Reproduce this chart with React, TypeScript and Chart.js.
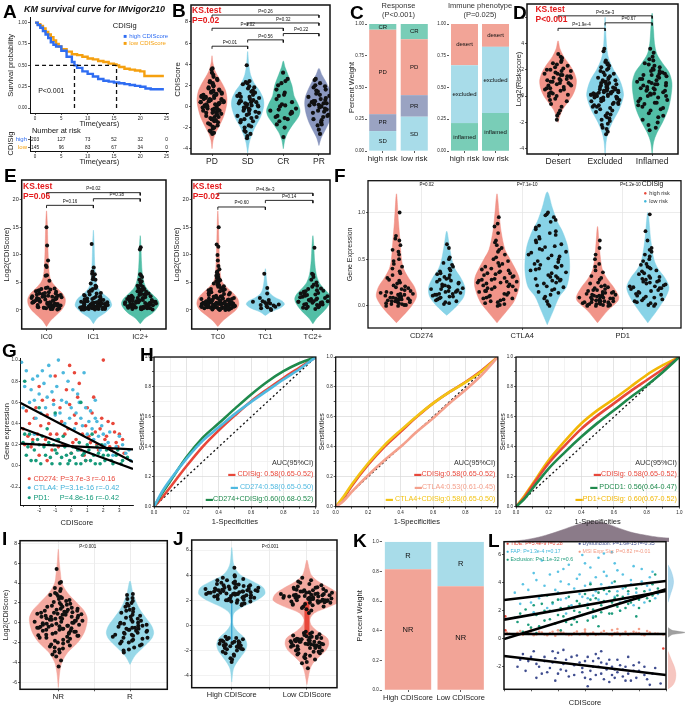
import { useEffect, useRef } from 'react';
import { Chart, registerables } from 'chart.js';

Chart.register(...registerables);

const FONT = "'Liberation Sans', Arial, Helvetica, sans-serif";
const RED = '#E41A1C';
const BLUE_KM = '#2F6DF2';
const ORANGE_KM = '#F5A00F';

const SALMON = 'rgba(239,133,121,0.88)';
const SKY = 'rgba(120,205,228,0.88)';
const TEAL = 'rgba(58,181,154,0.88)';
const SLATE = 'rgba(122,137,182,0.88)';
const SALMON_L = 'rgba(243,160,150,0.9)';
const SKY_L = 'rgba(140,212,230,0.9)';
const BAR_SALMON = '#F2A497';
const BAR_SKY = '#A8DCE9';
const BAR_TEAL = '#79CDB7';
const BAR_SLATE = '#9AA3C2';

// ---------- A: Kaplan-Meier ----------
const KM_HIGH_T = [0, 0.5, 1, 1.5, 2, 2.5, 3, 3.5, 4, 5, 6, 7, 7.5, 8, 9, 10, 11, 12, 13, 14, 15, 16, 17, 18, 19, 20, 21, 22, 24.5];
const KM_HIGH_S = [1, 0.97, 0.94, 0.9, 0.86, 0.82, 0.77, 0.74, 0.72, 0.67, 0.6, 0.54, 0.5, 0.47, 0.43, 0.4, 0.37, 0.34, 0.32, 0.31, 0.3, 0.29, 0.28, 0.27, 0.26, 0.25, 0.23, 0.22, 0.22];
const KM_LOW_T = [0, 0.5, 1, 1.5, 2, 2.5, 3, 3.5, 4, 4.5, 5, 6, 7, 8, 9, 10, 11, 12, 13, 14, 15, 15.5, 16, 17, 18, 19, 20, 20.8, 24.5];
const KM_LOW_S = [1, 0.98, 0.96, 0.93, 0.89, 0.86, 0.83, 0.79, 0.75, 0.72, 0.69, 0.66, 0.63, 0.62, 0.6, 0.58, 0.57, 0.55, 0.54, 0.52, 0.51, 0.5, 0.48, 0.46, 0.45, 0.44, 0.43, 0.375, 0.375];
const KM_MEDIANS = [7.5, 15.5];
const RISK_TIMES = [0, 5, 10, 15, 20, 25];
const RISK_HIGH = [203, 127, 73, 52, 32, 0];
const RISK_LOW = [145, 96, 83, 67, 34, 0];
const RISK_GROUPS = ['high', 'low'];

// shared jitter offsets
const JIT = [0.12, -0.64, 0.83, -0.27, 0.45, -0.91, 0.05, 0.68, -0.48, 0.31, -0.12, 0.94, -0.76, 0.22, -0.35, 0.57, -0.03, 0.79, -0.58, 0.38, -0.84, 0.16, 0.63, -0.19, -0.69, 0.49, 0.87, -0.41, 0.09, -0.97, 0.27, -0.53, 0.72, -0.08, 0.41, -0.3, 0.99, -0.62, 0.18, 0.55];

// ---------- B ----------
const B_CATS = ['PD', 'SD', 'CR', 'PR'];
const B_PD = [-2.6, -2.5, -2.4, -2.1, -1.9, -1.7, -1.5, -1.4, -1.2, -1.1, -1.0, -0.9, -0.8, -0.7, -0.6, -0.5, -0.4, -0.3, -0.3, -0.2, -0.1, 0.0, 0.1, 0.1, 0.2, 0.3, 0.3, 0.4, 0.5, 0.5, 0.6, 0.7, 0.8, 0.9, 1.0, 1.0, 1.1, 1.2, 1.3, 1.4, 1.5, 1.6, 1.8, 1.9, 2.1, 2.3, 2.5, 2.8, 3.2, 3.5, 3.6,
  -2.3, -2.0, -1.8, -1.6, -1.3, -1.0, -0.8, -0.6, -0.5, -0.4, -0.2, -0.1, 0.0, 0.0, 0.2, 0.3, 0.4, 0.4, 0.5, 0.6, 0.6, 0.7, 0.8, 0.8, 0.9, 1.0, 1.1, 1.2, 1.3, 1.4, 1.5, 1.7, 2.0, 2.2, 2.4, 2.6, 3.0, -1.2, 0.7, 0.2];
const B_SD = [-3.0, -2.8, -2.6, -2.3, -2.0, -1.8, -1.5, -1.3, -1.1, -1.0, -0.8, -0.7, -0.5, -0.4, -0.3, -0.2, -0.1, 0.0, 0.1, 0.2, 0.3, 0.4, 0.5, 0.6, 0.8, 0.9, 1.1, 1.3, 1.5, 1.7, 1.9, 2.1, 2.3, 2.4, 3.9,
  -2.4, -1.9, -1.4, -0.9, -0.6, -0.2, 0.0, 0.1, 0.3, 0.5, 0.7, 1.0, 1.2, 1.4, 1.8, 2.2, -0.4, 0.4, -1.2, 0.9];
const B_CR = [-2.9, -2.0, -1.7, -1.4, -1.2, -1.0, -0.9, -0.7, -0.5, -0.4, -0.2, 0.0, 0.2, 0.4, 0.7, 1.0, 1.3, 1.6, 2.0, 2.4, 2.6, 3.2, -1.1, -0.6, -0.3, 0.1, 1.1, 2.2];
const B_PR = [-2.6, -2.2, -1.8, -1.5, -1.2, -1.0, -0.8, -0.6, -0.5, -0.3, -0.2, -0.1, 0.0, 0.1, 0.2, 0.3, 0.4, 0.5, 0.6, 0.8, 0.9, 1.0, 1.2, 1.4, 1.6, 1.8, 2.0, 2.2, 2.5, 2.6,
  -1.7, -0.9, -0.4, 0.0, 0.3, 0.5, 0.7, 1.1, 1.5, 1.9, -1.3, 0.15];
const B_PD_V = [[-4, 0], [-3.2, 0.03], [-2.5, 0.1], [-2, 0.18], [-1, 0.32], [0, 0.4], [0.7, 0.42], [1.5, 0.38], [2.2, 0.28], [3, 0.14], [3.5, 0.07], [4.2, 0.02], [4.8, 0]];
const B_SD_V = [[-4.4, 0], [-3.5, 0.04], [-2.8, 0.1], [-2, 0.2], [-1, 0.36], [0, 0.45], [0.7, 0.44], [1.5, 0.33], [2.2, 0.18], [3, 0.08], [4, 0.03], [5.2, 0]];
const B_CR_V = [[-4, 0], [-3.2, 0.04], [-2.5, 0.12], [-1.8, 0.25], [-1, 0.42], [-0.4, 0.47], [0.3, 0.4], [1, 0.3], [2, 0.24], [3, 0.13], [3.7, 0.05], [4.3, 0]];
const B_PR_V = [[-3.7, 0], [-3, 0.06], [-2.4, 0.15], [-1.6, 0.27], [-0.7, 0.36], [0.2, 0.4], [0.9, 0.38], [1.6, 0.3], [2.3, 0.2], [3, 0.08], [3.6, 0]];
const B_BR: [number, number, number, string][] = [[1, 2, 5.7, 'P=0.01'], [2, 3, 6.3, 'P=0.56'], [1, 3, 7.4, 'P=0.02'], [3, 4, 6.9, 'P=0.22'], [2, 4, 7.9, 'P=0.32'], [1, 4, 8.65, 'P=0.26']];

// ---------- C ----------
const C_CATS = ['high risk', 'low risk'];
const RESP_SD = [0.157, 0.27];
const RESP_PR = [0.133, 0.17];
const RESP_PD = [0.665, 0.44];
const RESP_CR = [0.045, 0.12];
const IMM_INFL = [0.22, 0.3];
const IMM_EXCL = [0.455, 0.52];
const IMM_DESERT = [0.325, 0.18];

// ---------- D ----------
const D_CATS = ['Desert', 'Excluded', 'Inflamed'];
const D_DESERT = [-1.8, -1.5, -1.1, -0.8, -0.6, -0.4, -0.2, 0.0, 0.1, 0.2, 0.3, 0.4, 0.5, 0.6, 0.7, 0.8, 0.9, 1.0, 1.0, 1.1, 1.2, 1.3, 1.4, 1.5, 1.6, 1.7, 1.8, 1.9, 2.0, 2.1, 2.3, 2.5, 2.7, 2.9, 3.0, 3.2,
  -1.3, -0.3, 0.2, 0.5, 0.8, 1.1, 1.3, 1.5, 1.7, 1.9, 2.2, 2.4, 0.9, 1.2, 0.6, 1.6, 2.0, 0.0, 2.6, 1.4];
const D_EXCL = [-2.9, -2.7, -2.4, -2.1, -1.9, -1.7, -1.5, -1.3, -1.2, -1.0, -0.9, -0.8, -0.7, -0.6, -0.5, -0.4, -0.3, -0.2, -0.1, -0.1, 0.0, 0.0, 0.1, 0.1, 0.2, 0.2, 0.3, 0.3, 0.4, 0.5, 0.5, 0.6, 0.7, 0.8, 0.9, 1.0, 1.1, 1.2, 1.3, 1.4, 1.5, 1.7, 1.9, 2.1, 2.3, 2.5, 2.6, 2.7, 3.4, 3.6,
  -2.5, -2.2, -1.8, -1.4, -1.1, -0.8, -0.6, -0.4, -0.3, -0.2, -0.1, 0.0, 0.0, 0.1, 0.2, 0.3, 0.4, 0.4, 0.5, 0.6, 0.7, 0.8, 0.9, 1.0, 1.2, 1.4, 1.6, 1.8, 2.0, 2.2, 2.4, -0.5, 0.15, 0.35, -0.05, 0.65, 1.1, -1.6, -0.7, 0.25];
const D_INFL = [-2.6, -2.4, -2.0, -1.8, -1.5, -1.3, -1.1, -0.9, -0.8, -0.6, -0.5, -0.4, -0.2, -0.1, 0.0, 0.1, 0.2, 0.3, 0.4, 0.5, 0.6, 0.7, 0.8, 0.9, 1.0, 1.1, 1.2, 1.3, 1.4, 1.5, 1.6, 1.7, 1.8, 1.9, 2.1, 2.3, 2.5, 2.8, 3.3, 3.6,
  -2.2, -1.6, -1.0, -0.7, -0.3, 0.0, 0.2, 0.4, 0.6, 0.8, 0.9, 1.1, 1.3, 1.5, 1.7, 1.9, 2.0, 2.2, 2.4, 2.7, 3.0, 0.5, 1.0, -0.5, 1.6];
const D_DESERT_V = [[-2, 0], [-1.5, 0.04], [-1, 0.1], [-0.5, 0.2], [0, 0.3], [0.6, 0.37], [1.2, 0.39], [1.8, 0.34], [2.4, 0.24], [3, 0.12], [3.6, 0.04], [4.2, 0]];
const D_EXCL_V = [[-4.5, 0], [-3.5, 0.02], [-2.8, 0.06], [-2, 0.15], [-1, 0.3], [0, 0.39], [0.6, 0.37], [1.3, 0.3], [2, 0.18], [2.8, 0.08], [3.5, 0.04], [4.5, 0.02], [6, 0]];
const D_INFL_V = [[-4.4, 0], [-3.5, 0.03], [-2.8, 0.1], [-2, 0.22], [-1, 0.34], [0, 0.4], [1, 0.42], [1.8, 0.36], [2.5, 0.22], [3.2, 0.1], [4, 0.05], [5, 0.03], [6.3, 0]];
const D_BR: [number, number, number, string][] = [[1, 2, 5.15, 'P=1.9e-4'], [2, 3, 5.57, 'P=0.67'], [1, 3, 6.1, 'P=9.5e-3']];

// ---------- E ----------
const E_IC_CATS = ['IC0', 'IC1', 'IC2+'];
const E_TC_CATS = ['TC0', 'TC1', 'TC2+'];
const E_IC0 = [0.1, 0.2, 0.3, 0.4, 0.5, 0.6, 0.7, 0.8, 0.9, 1.0, 1.1, 1.2, 1.3, 1.4, 1.5, 1.6, 1.7, 1.8, 1.9, 2.0, 2.1, 2.2, 2.3, 2.4, 2.5, 2.6, 2.8, 3.0, 3.2, 3.4, 3.5, 3.7, 3.9, 4.0, 4.1, 5.3, 6.2, 6.3, 7.8, 8.1, 9.0, 11.7, 15.0, 0.4, 1.0, 2.2,
  0.2, 0.3, 0.5, 0.6, 0.8, 0.9, 1.1, 1.2, 1.4, 1.5, 1.7, 1.8, 2.0, 2.1, 2.3, 2.5, 2.7, 2.9, 3.1, 3.3, 3.6, 3.8, 0.7, 1.3, 1.6, 2.4, 0.15, 1.9, 2.6, 3.0];
const E_IC1 = [0.1, 0.1, 0.2, 0.2, 0.3, 0.3, 0.4, 0.5, 0.5, 0.6, 0.7, 0.8, 0.9, 1.0, 1.0, 1.1, 1.2, 1.3, 1.4, 1.5, 1.6, 1.8, 2.0, 2.2, 2.4, 2.6, 2.8, 3.0, 3.3, 3.6, 4.0, 4.4, 4.8, 5.5, 5.6, 6.0, 6.5, 6.6, 7.0, 7.7, 12.0, 0.4, 0.8, 1.2, 2.0,
  0.1, 0.2, 0.2, 0.3, 0.3, 0.4, 0.4, 0.5, 0.6, 0.6, 0.7, 0.7, 0.8, 0.9, 1.0, 1.1, 1.1, 1.2, 1.3, 1.4, 1.5, 1.6, 1.7, 1.9, 2.1, 2.3, 2.5, 2.7, 3.1, 3.5, 3.8, 4.2, 0.15, 0.25, 0.35, 0.45, 0.55, 0.65, 0.95, 1.25];
const E_IC2 = [0.1, 0.2, 0.3, 0.3, 0.4, 0.5, 0.6, 0.7, 0.8, 0.9, 1.0, 1.1, 1.2, 1.3, 1.4, 1.5, 1.6, 1.7, 1.8, 1.9, 2.0, 2.2, 2.4, 2.6, 2.8, 3.0, 3.2, 3.5, 3.8, 4.0, 4.5, 5.0, 5.5, 6.0, 6.3, 6.5, 11.0, 11.4, 0.6, 1.0, 1.5, 2.3, 2.7, 3.3, 4.2,
  0.2, 0.3, 0.4, 0.5, 0.6, 0.7, 0.8, 0.9, 1.0, 1.1, 1.2, 1.3, 1.4, 1.5, 1.6, 1.7, 1.8, 2.0, 2.1, 2.3, 2.5, 2.7, 2.9, 3.1, 3.4, 3.7, 0.15, 0.45, 0.85, 1.25, 1.75, 2.2, 3.6, 4.4, 5.2];
const E_TC0 = [0.0, 0.1, 0.1, 0.2, 0.2, 0.3, 0.3, 0.4, 0.4, 0.5, 0.5, 0.6, 0.7, 0.8, 0.8, 0.9, 1.0, 1.0, 1.1, 1.2, 1.3, 1.4, 1.5, 1.6, 1.7, 1.8, 1.9, 2.0, 2.2, 2.4, 2.6, 2.8, 3.0, 3.2, 3.4, 3.6, 3.8, 4.0, 4.3, 4.6, 5.0, 5.4, 5.8, 6.0, 6.4, 7.0, 7.4, 8.0, 9.0, 10.0, 11.5, 11.9, 15.0, 0.6, 1.3,
  0.0, 0.1, 0.2, 0.2, 0.3, 0.3, 0.4, 0.4, 0.5, 0.5, 0.6, 0.6, 0.7, 0.7, 0.8, 0.8, 0.9, 0.9, 1.0, 1.0, 1.1, 1.1, 1.2, 1.2, 1.3, 1.4, 1.5, 1.6, 1.7, 1.8, 1.9, 2.0, 2.1, 2.2, 2.3, 2.5, 2.7, 2.9, 3.1, 3.3, 3.5, 3.7, 3.9, 4.2, 4.5, 4.8, 5.2, 5.6, 6.2, 6.8, 0.15, 0.35, 0.55, 0.75, 0.95, 1.15, 1.35, 1.55, 2.05, 2.45];
const E_TC1 = [0.0, 0.3, 0.5, 0.7, 0.9, 1.0, 1.2, 1.4, 1.6, 1.8, 2.2, 3.0, 4.0, 6.6, 0.2, 0.6, 0.8, 1.1, 1.3, 1.5];
const E_TC2 = [0.2, 0.4, 0.6, 0.8, 1.0, 1.1, 1.2, 1.4, 1.5, 1.6, 1.8, 2.0, 2.2, 2.4, 2.6, 2.8, 3.0, 3.3, 3.6, 3.9, 4.2, 4.6, 5.0, 5.5, 6.0, 6.4, 6.6, 11.3, 0.9, 1.3, 1.7, 2.1, 2.9, 0.5, 3.5,
  0.3, 0.7, 1.0, 1.3, 1.6, 1.9, 2.3, 2.7, 3.1, 3.4, 3.8, 4.4, 1.1, 1.5, 2.5];
const E_IC0_V = [[-3, 0], [-2, 0.08], [-1, 0.2], [0, 0.32], [1, 0.39], [2, 0.4], [3, 0.34], [4, 0.22], [5, 0.12], [6, 0.07], [8, 0.045], [10, 0.035], [13, 0.025], [16, 0.015], [18, 0]];
const E_IC1_V = [[-2.5, 0], [-1.5, 0.08], [-0.5, 0.25], [0.5, 0.37], [1, 0.39], [2, 0.34], [3, 0.2], [4, 0.1], [5, 0.06], [6.5, 0.04], [9, 0.025], [12, 0.015], [14.5, 0]];
const E_IC2_V = [[-2.5, 0], [-1.5, 0.1], [-0.5, 0.27], [0.5, 0.37], [1.2, 0.4], [2, 0.36], [3, 0.24], [4, 0.13], [5, 0.08], [6.5, 0.045], [9, 0.025], [11.5, 0.015], [13.5, 0]];
const E_TC0_V = [[-3, 0], [-2, 0.1], [-1, 0.24], [0, 0.38], [1, 0.44], [2, 0.42], [3, 0.33], [4, 0.2], [5, 0.1], [6, 0.06], [8, 0.04], [10, 0.03], [13, 0.02], [16, 0.012], [18, 0]];
const E_TC1_V = [[-1, 0], [-0.3, 0.12], [0.3, 0.3], [1, 0.4], [1.6, 0.36], [2.2, 0.22], [3, 0.1], [4, 0.05], [5.5, 0.025], [7.5, 0]];
const E_TC2_V = [[-2.5, 0], [-1.5, 0.08], [-0.5, 0.2], [0.5, 0.3], [1.5, 0.37], [2.2, 0.38], [3, 0.33], [4, 0.22], [5, 0.13], [6.5, 0.07], [9, 0.035], [11.5, 0.02], [13.5, 0]];
const E_IC_BR: [number, number, number, string][] = [[1, 2, 19.0, 'P=0.16'], [2, 3, 20.2, 'P=0.38'], [1, 3, 21.3, 'P=0.02']];
const E_TC_BR: [number, number, number, string][] = [[1, 2, 18.7, 'P=0.60'], [2, 3, 19.9, 'P=0.14'], [1, 3, 21.2, 'P=4.8e-3']];

// ---------- F ----------
const F_GENES = ['CD274', 'CTLA4', 'PD1'];
const F_PVALS = ['P=0.02', 'P=7.1e-10', 'P=1.2e-10'];
const F_CD274_H = [0.0, 0.01, 0.02, 0.03, 0.04, 0.05, 0.06, 0.07, 0.08, 0.09, 0.1, 0.11, 0.12, 0.13, 0.15, 0.17, 0.19, 0.21, 0.24, 0.27, 0.3, 0.33, 0.37, 0.4, 0.45, 0.5, 0.55, 0.6, 0.65, 0.72, 0.75, 1.0, 0.03, 0.06, 0.1, 0.14,
  0.0, 0.02, 0.04, 0.05, 0.07, 0.08, 0.09, 0.11, 0.12, 0.14, 0.16, 0.18, 0.2, 0.22, 0.25, 0.28, 0.35, 0.42, 0.48, 0.58, 0.7, 0.01, 0.06, 0.13];
const F_CD274_L = [0.02, 0.04, 0.05, 0.07, 0.08, 0.1, 0.11, 0.12, 0.13, 0.14, 0.15, 0.16, 0.17, 0.18, 0.2, 0.21, 0.23, 0.25, 0.27, 0.29, 0.31, 0.33, 0.35, 0.38, 0.42, 0.46, 0.5, 0.52, 0.62, 0.66,
  0.03, 0.06, 0.09, 0.1, 0.12, 0.13, 0.15, 0.16, 0.18, 0.19, 0.21, 0.22, 0.24, 0.26, 0.28, 0.3, 0.34, 0.37, 0.4, 0.44];
const F_CTLA4_H = [0.0, 0.01, 0.03, 0.05, 0.07, 0.09, 0.1, 0.12, 0.14, 0.15, 0.17, 0.18, 0.2, 0.21, 0.22, 0.24, 0.25, 0.27, 0.28, 0.3, 0.32, 0.34, 0.36, 0.38, 0.4, 0.43, 0.46, 0.5, 0.55, 0.6, 0.65, 0.7, 0.78, 0.85, 0.95, 0.08, 0.16, 0.26, 0.35,
  0.02, 0.04, 0.06, 0.08, 0.11, 0.13, 0.16, 0.19, 0.21, 0.23, 0.25, 0.26, 0.28, 0.29, 0.31, 0.33, 0.35, 0.37, 0.39, 0.42, 0.45, 0.48, 0.52, 0.58, 0.62, 0.68, 0.88];
const F_CTLA4_L = [0.0, 0.05, 0.1, 0.12, 0.15, 0.18, 0.2, 0.22, 0.25, 0.28, 0.3, 0.33, 0.35, 0.38, 0.4, 0.42, 0.45, 0.48, 0.5, 0.53, 0.55, 0.58, 0.6, 0.63, 0.66, 0.7, 0.74, 0.78, 0.82, 0.86, 0.9, 0.95, 0.98, 1.0, 0.27, 0.44, 0.31,
  0.02, 0.08, 0.14, 0.17, 0.21, 0.24, 0.27, 0.29, 0.32, 0.36, 0.39, 0.41, 0.43, 0.47, 0.51, 0.54, 0.57, 0.61, 0.64, 0.68, 0.72, 0.76, 0.8, 0.84, 0.92, 0.97];
const F_PD1_H = [0.0, 0.01, 0.01, 0.02, 0.03, 0.03, 0.04, 0.05, 0.06, 0.07, 0.08, 0.09, 0.1, 0.11, 0.12, 0.13, 0.14, 0.15, 0.16, 0.18, 0.2, 0.22, 0.25, 0.28, 0.32, 0.38, 0.45, 0.5, 0.55, 0.7, 0.04, 0.09, 0.12, 0.17,
  0.0, 0.0, 0.01, 0.02, 0.02, 0.03, 0.04, 0.05, 0.05, 0.06, 0.07, 0.08, 0.09, 0.1, 0.11, 0.12, 0.14, 0.15, 0.17, 0.19, 0.21, 0.24, 0.3, 0.36, 0.42, 0.62];
const F_PD1_L = [0.0, 0.02, 0.05, 0.07, 0.08, 0.1, 0.12, 0.13, 0.15, 0.16, 0.18, 0.2, 0.21, 0.22, 0.24, 0.25, 0.27, 0.29, 0.3, 0.32, 0.35, 0.38, 0.4, 0.42, 0.45, 0.5, 0.55, 0.6, 0.62, 0.8, 0.98, 0.19, 0.26,
  0.01, 0.03, 0.04, 0.06, 0.09, 0.11, 0.14, 0.17, 0.19, 0.21, 0.23, 0.26, 0.28, 0.31, 0.34, 0.37, 0.41, 0.44, 0.48, 0.53, 0.58, 0.7];
const F_CD274_H_V = [[-0.18, 0], [-0.1, 0.07], [0, 0.15], [0.1, 0.2], [0.2, 0.18], [0.3, 0.12], [0.4, 0.07], [0.5, 0.05], [0.7, 0.035], [0.9, 0.02], [1.2, 0]];
const F_CD274_L_V = [[-0.1, 0], [0, 0.1], [0.1, 0.17], [0.2, 0.18], [0.3, 0.14], [0.4, 0.08], [0.5, 0.05], [0.65, 0.025], [0.8, 0]];
const F_CTLA4_H_V = [[-0.18, 0], [-0.05, 0.1], [0.05, 0.17], [0.2, 0.22], [0.3, 0.22], [0.4, 0.18], [0.5, 0.13], [0.6, 0.08], [0.8, 0.04], [1.0, 0.02], [1.2, 0]];
const F_CTLA4_L_V = [[-0.2, 0], [-0.05, 0.06], [0.1, 0.12], [0.2, 0.19], [0.35, 0.22], [0.5, 0.22], [0.65, 0.2], [0.8, 0.15], [0.9, 0.1], [1.05, 0.05], [1.22, 0]];
const F_PD1_H_V = [[-0.18, 0], [-0.05, 0.1], [0.05, 0.2], [0.1, 0.21], [0.2, 0.16], [0.3, 0.09], [0.4, 0.045], [0.6, 0.02], [0.85, 0]];
const F_PD1_L_V = [[-0.18, 0], [-0.05, 0.09], [0.1, 0.18], [0.2, 0.21], [0.3, 0.17], [0.4, 0.1], [0.5, 0.06], [0.7, 0.03], [1.0, 0]];

// ---------- G ----------
const G_CD274 = [[-3.0, 0.35], [-2.8, 0.52], [-2.7, 0.28], [-2.5, 0.18], [-2.3, 0.45], [-2.1, 0.3], [-2.0, 0.1], [-1.8, 0.62], [-1.6, 0.25], [-1.4, 0.4], [-1.2, 0.15], [-1.0, 0.85], [-0.9, 0.3], [-0.7, 0.55], [-0.5, 0.2], [-0.3, 0.72], [-0.2, 0.35], [0.0, 0.12], [0.2, 0.48], [0.3, 0.25], [0.5, 0.78], [0.7, 0.3], [0.8, 0.1], [1.0, 0.55], [1.2, 0.22], [1.4, 0.65], [1.5, 0.32], [1.7, 0.15], [1.9, 0.45], [2.0, 1.0], [2.2, 0.28], [2.4, 0.18], [2.6, 0.4], [2.8, 0.22], [3.0, 0.3], [3.3, 0.12], [-1.5, 0.05], [0.9, 0.05], [-0.1, 0.95],
  [-2.9, 0.2], [-2.6, 0.4], [-2.4, 0.25], [-2.2, 0.55], [-1.9, 0.38], [-1.7, 0.2], [-1.5, 0.48], [-1.3, 0.3], [-1.1, 0.62], [-0.8, 0.18], [-0.6, 0.42], [-0.4, 0.3], [-0.1, 0.58], [0.1, 0.22], [0.3, 0.4], [0.4, 0.65], [0.6, 0.15], [0.9, 0.38], [1.1, 0.28], [1.3, 0.5], [1.6, 0.2], [1.8, 0.35], [2.1, 0.25], [2.3, 0.42], [2.5, 0.15], [2.7, 0.32], [2.9, 0.18], [3.2, 0.25], [0.2, 0.88], [-2.0, 0.75]];
const G_CTLA4 = [[-3.1, 0.98], [-2.9, 0.75], [-2.6, 0.6], [-2.4, 0.82], [-2.2, 0.45], [-2.0, 0.68], [-1.8, 0.9], [-1.6, 0.55], [-1.4, 0.95], [-1.2, 0.7], [-1.0, 0.48], [-0.8, 1.0], [-0.6, 0.62], [-0.4, 0.4], [-0.2, 0.8], [0.0, 0.55], [0.2, 0.35], [0.4, 0.68], [0.6, 0.45], [0.8, 0.88], [1.0, 0.3], [1.2, 0.52], [1.4, 0.25], [1.6, 0.42], [1.8, 0.15], [2.0, 0.3], [2.3, 0.22], [2.6, 0.1], [3.0, 0.28], [3.4, 0.12], [3.7, 0.05], [-2.3, 0.3], [-0.9, 0.25], [0.5, 0.15], [1.5, 0.62],
  [-3.0, 0.55], [-2.8, 0.9], [-2.5, 0.72], [-2.3, 0.62], [-2.1, 0.85], [-1.9, 0.5], [-1.7, 0.78], [-1.5, 0.65], [-1.3, 0.85], [-1.1, 0.58], [-0.9, 0.75], [-0.7, 0.5], [-0.5, 0.88], [-0.3, 0.6], [-0.1, 0.45], [0.1, 0.72], [0.3, 0.5], [0.5, 0.6], [0.7, 0.38], [0.9, 0.55], [1.1, 0.42], [1.3, 0.35], [1.5, 0.45], [1.7, 0.28], [1.9, 0.38], [2.1, 0.2], [2.4, 0.32], [2.8, 0.18], [3.2, 0.2], [3.6, 0.15]];
const G_PD1 = [[-3.0, 0.22], [-2.8, 0.1], [-2.6, 0.3], [-2.5, 0.05], [-2.3, 0.15], [-2.1, 0.25], [-1.9, 0.02], [-1.7, 0.18], [-1.5, 0.35], [-1.3, 0.08], [-1.1, 0.2], [-0.9, 0.12], [-0.7, 0.02], [-0.5, 0.28], [-0.3, 0.1], [-0.1, 0.05], [0.1, 0.18], [0.3, 0.02], [0.5, 0.22], [0.7, 0.1], [0.9, 0.05], [1.1, 0.15], [1.3, 0.3], [1.5, 0.02], [1.7, 0.12], [1.9, 0.2], [2.1, 0.05], [2.3, 0.1], [2.6, 0.02], [2.9, 0.15], [3.2, 0.05], [-2.9, 0.8], [-1.0, 0.5], [0.6, 0.6], [-2.0, 0.55],
  [-2.9, 0.3], [-2.7, 0.18], [-2.4, 0.22], [-2.2, 0.05], [-2.0, 0.2], [-1.8, 0.28], [-1.6, 0.1], [-1.4, 0.22], [-1.2, 0.02], [-1.0, 0.15], [-0.8, 0.25], [-0.6, 0.08], [-0.4, 0.18], [-0.2, 0.02], [0.0, 0.12], [0.2, 0.08], [0.4, 0.15], [0.6, 0.02], [0.8, 0.12], [1.0, 0.2], [1.2, 0.05], [1.4, 0.1], [1.6, 0.18], [1.8, 0.02], [2.0, 0.1], [2.2, 0.15], [2.5, 0.05], [2.8, 0.1], [3.1, 0.02], [3.5, 0.08]];
const G_XR = [-3.15, 3.85];
const G_FIT_CTLA4 = [0.594, 0.037];
const G_FIT_PD1 = [0.36, -0.03];
const G_FIT_CD274 = [0.21, 0.156];

// ---------- H: ROC ----------
const ROC_FPR = [0, 0.05, 0.1, 0.2, 0.3, 0.4, 0.5, 0.6, 0.7, 0.8, 0.9, 1];
const H1_CDISIG = [0, 0.06, 0.13, 0.27, 0.4, 0.51, 0.61, 0.705, 0.785, 0.86, 0.93, 1];
const H1_CD274 = [0, 0.1, 0.18, 0.32, 0.44, 0.53, 0.62, 0.7, 0.775, 0.85, 0.92, 1];
const H1_COMB = [0, 0.09, 0.17, 0.33, 0.46, 0.557, 0.655, 0.75, 0.835, 0.905, 0.96, 1];
const H2_CDISIG = [0, 0.06, 0.14, 0.28, 0.4, 0.5, 0.6, 0.69, 0.765, 0.833, 0.91, 1];
const H2_CTLA4 = [0, 0.04, 0.1, 0.21, 0.31, 0.4, 0.5, 0.59, 0.69, 0.78, 0.88, 1];
const H2_COMB = [0, 0.07, 0.15, 0.29, 0.41, 0.51, 0.605, 0.69, 0.765, 0.83, 0.905, 1];
const H3_CDISIG = [0, 0.06, 0.14, 0.29, 0.41, 0.52, 0.61, 0.69, 0.77, 0.845, 0.92, 1];
const H3_PDCD1 = [0, 0.05, 0.12, 0.255, 0.365, 0.467, 0.56, 0.644, 0.73, 0.81, 0.9, 1];
const H3_COMB = [0, 0.07, 0.15, 0.31, 0.44, 0.556, 0.645, 0.72, 0.8, 0.88, 0.945, 1];

// ---------- I / J ----------
const I_CATS = ['NR', 'R'];
const I_NR = [-4.4, -3.8, -3.4, -3.0, -2.7, -2.5, -2.3, -2.1, -2.0, -1.8, -1.7, -1.5, -1.4, -1.3, -1.2, -1.0, -0.9, -0.8, -0.7, -0.6, -0.5, -0.4, -0.3, -0.2, -0.1, 0.0, 0.0, 0.1, 0.2, 0.3, 0.4, 0.5, 0.6, 0.7, 0.8, 0.9, 1.0, 1.1, 1.2, 1.3, 1.4, 1.5, 1.7, 1.8, 2.0, 2.1, 2.3, 2.5, 2.7, 2.9, 3.2, 3.5, 4.0, 4.1, 5.4, -1.1, 0.2, 0.6, -0.35, 1.6,
  -3.2, -2.9, -2.6, -2.4, -2.2, -1.9, -1.6, -1.5, -1.3, -1.1, -1.0, -0.9, -0.8, -0.7, -0.6, -0.5, -0.4, -0.3, -0.2, -0.1, 0.1, 0.2, 0.3, 0.4, 0.5, 0.6, 0.7, 0.8, 0.9, 1.0, 1.1, 1.2, 1.3, 1.4, 1.6, 1.8, 1.9, 2.2, 2.4, 2.6, 2.8, 3.0, 3.4, -0.05, 0.45, -0.55, 1.05, -1.25, 0.85, -0.25];
const I_R = [-3.0, -2.8, -2.5, -2.2, -2.0, -1.8, -1.6, -1.5, -1.3, -1.2, -1.0, -0.9, -0.8, -0.7, -0.6, -0.5, -0.4, -0.3, -0.2, -0.1, 0.0, 0.2, 0.4, 0.6, 0.8, 1.0, 1.2, 1.4, 1.6, 1.9, 2.2, 2.5, 2.8, 2.9, -1.1,
  -2.7, -2.3, -2.1, -1.9, -1.7, -1.4, -1.2, -1.0, -0.8, -0.7, -0.5, -0.3, -0.1, 0.1, 0.3, 0.5, 0.7, 1.1, 1.3, 1.7, 2.0, 2.4, -0.6, -1.5, 0.0];
const I_NR_V = [[-6.5, 0], [-5, 0.02], [-4, 0.05], [-3, 0.13], [-2, 0.27], [-1, 0.36], [0, 0.4], [0.6, 0.4], [1.3, 0.35], [2, 0.26], [3, 0.13], [4, 0.05], [5, 0.03], [6, 0.015], [7.4, 0]];
const I_R_V = [[-4.2, 0], [-3.3, 0.07], [-2.5, 0.18], [-1.6, 0.3], [-1, 0.33], [-0.3, 0.3], [0.5, 0.22], [1.3, 0.14], [2, 0.09], [3, 0.04], [4.2, 0]];
const J_CATS = ['High CDIScore', 'Low CDIScore'];
const J_HIGH = [1.6, 1.8, 1.9, 2.0, 2.0, 2.1, 2.2, 2.2, 2.3, 2.3, 2.4, 2.4, 2.5, 2.5, 2.6, 2.6, 2.7, 2.7, 2.8, 2.8, 2.9, 2.9, 3.0, 3.0, 3.1, 3.2, 3.3, 3.4, 3.5, 3.6, 3.8, 4.0, 4.6, 2.15, 2.45, 2.65, 2.85, 3.05, 2.55, 2.75, 1.75, 3.25,
  -2.9, -2.6, -2.4, -2.2, -2.0, -1.9, -1.8, -1.7, -1.6, -1.5, -1.4, -1.3, -1.2, -1.1, -1.0, -0.9, -1.55, -1.25, -1.75, -1.45,
  1.9, 2.0, 2.1, 2.2, 2.3, 2.4, 2.5, 2.5, 2.6, 2.7, 2.8, 2.9, 3.0, 3.1, 3.2, 3.3, 3.4, 3.6, 3.7, 3.9, 2.35, 2.55, 2.65, 2.95, 2.25, 2.75, 2.85, 3.15, 1.7, 2.05,
  -2.7, -2.3, -2.1, -1.9, -1.7, -1.6, -1.5, -1.4, -1.35, -1.2, -1.1, -1.0, -1.65, -1.85, -1.3];
const J_LOW = [1.0, 1.3, 1.5, 1.6, 1.7, 1.8, 1.8, 1.9, 1.9, 2.0, 2.0, 2.1, 2.1, 2.2, 2.2, 2.3, 2.3, 2.4, 2.4, 2.5, 2.5, 2.6, 2.7, 2.8, 2.9, 3.0, 3.1, 3.3, 3.5, 3.8, 1.95, 2.15, 2.35, 2.05, 1.85, 2.25, 2.45, 2.65, 1.4, 2.75,
  -3.4, -2.9, -2.6, -2.4, -2.2, -2.1, -2.0, -1.9, -1.8, -1.7, -1.6, -1.5, -1.5, -1.4, -1.3, -1.3, -1.2, -1.1, -1.0, -0.9, -0.8, -0.7, -0.6, -0.5, -1.45, -1.15, -1.65, -0.95, -1.25, -2.3,
  1.2, 1.5, 1.7, 1.8, 1.9, 2.0, 2.1, 2.2, 2.3, 2.4, 2.5, 2.6, 2.7, 2.8, 2.9, 3.0, 3.2, 3.4, 3.6, 1.95, 2.05, 2.15, 2.25, 2.35, 2.45, 2.55, 1.65, 2.85, 3.05, 2.0,
  -3.0, -2.7, -2.5, -2.3, -2.1, -2.0, -1.9, -1.8, -1.7, -1.6, -1.55, -1.5, -1.45, -1.4, -1.35, -1.3, -1.2, -1.15, -1.1, -1.0, -0.9, -0.85, -0.75, -0.65, -1.25, -1.6, -2.2, -1.05, -0.55, -1.75];
const J_HIGH_V = [[-4.5, 0], [-3.5, 0.02], [-3, 0.06], [-2.5, 0.12], [-2, 0.18], [-1.5, 0.2], [-1, 0.17], [-0.5, 0.08], [0, 0.02], [0.5, 0.012], [1, 0.03], [1.5, 0.15], [2, 0.33], [2.5, 0.44], [3, 0.42], [3.5, 0.28], [4, 0.12], [4.5, 0.05], [5, 0.02], [6.2, 0]];
const J_LOW_V = [[-4.7, 0], [-3.5, 0.04], [-3, 0.08], [-2.5, 0.16], [-2, 0.25], [-1.5, 0.29], [-1, 0.27], [-0.5, 0.15], [0, 0.06], [0.5, 0.04], [1, 0.1], [1.5, 0.3], [2, 0.45], [2.5, 0.42], [3, 0.3], [3.5, 0.15], [4, 0.06], [4.5, 0.03], [5.2, 0]];
const J_BOX_HIGH = [-1.6, 2.6];
const J_BOX_LOW = [-0.8, 1.9];

// ---------- K ----------
const K_NR = [0.814, 0.7];
const K_R = [0.186, 0.3];

// ---------- L ----------
const L_FAP = [[-2.3, 3.9], [-2.0, 2.6], [-1.8, 4.2], [-1.6, 3.1], [-1.4, 2.2], [-1.3, 4.6], [-1.1, 3.5], [-0.9, 2.8], [-0.8, 5.0], [-0.6, 3.9], [-0.5, 2.4], [-0.3, 4.3], [-0.2, 3.2], [0.0, 5.4], [0.1, 2.9], [0.2, 4.0], [0.4, 3.4], [0.5, 5.8], [0.6, 2.6], [0.8, 4.5], [0.9, 3.7], [1.1, 3.0], [1.2, 4.9], [1.4, 3.6], [1.5, 2.7], [1.7, 4.2], [1.9, 3.3], [2.1, 5.0], [2.3, 3.8], [2.6, 2.9], [-1.9, 1.9], [-0.7, 1.8], [0.3, 1.6], [1.3, 2.0], [-2.6, 3.3], [0.7, 6.1], [-1.0, 4.8], [1.8, 2.4], [-0.1, 3.0], [2.4, 4.4],
  [-2.4, 2.5], [-2.1, 3.5], [-1.9, 4.7], [-1.7, 2.9], [-1.5, 3.8], [-1.2, 2.5], [-1.0, 3.3], [-0.9, 4.1], [-0.7, 2.9], [-0.6, 5.3], [-0.4, 3.6], [-0.3, 2.7], [-0.2, 4.6], [0.0, 3.8], [0.1, 2.5], [0.2, 5.1], [0.3, 3.1], [0.4, 4.4], [0.5, 2.8], [0.6, 3.9], [0.7, 4.8], [0.8, 3.2], [0.9, 2.3], [1.0, 4.0], [1.1, 5.4], [1.2, 3.4], [1.3, 2.6], [1.4, 4.6], [1.6, 3.2], [1.7, 3.9], [1.8, 5.2], [2.0, 3.0], [2.1, 4.1], [2.2, 2.6], [2.4, 3.5], [2.5, 4.8], [2.7, 3.2], [-1.6, 5.6], [-0.1, 6.0], [1.0, 6.2]];
const L_EXCL = [[-2.5, 1.2], [-2.2, 2.1], [-2.0, 0.8], [-1.8, 1.7], [-1.6, 2.5], [-1.5, 1.3], [-1.3, 2.0], [-1.1, 1.1], [-1.0, 2.8], [-0.8, 1.6], [-0.6, 2.3], [-0.5, 1.0], [-0.3, 2.7], [-0.2, 1.9], [0.0, 3.2], [0.1, 2.2], [0.3, 1.5], [0.4, 2.9], [0.6, 2.4], [0.7, 3.5], [0.9, 1.8], [1.0, 2.6], [1.2, 3.1], [1.3, 2.0], [1.5, 3.7], [1.6, 2.5], [1.8, 3.0], [2.0, 2.2], [2.2, 3.4], [2.4, 2.7], [2.6, 4.6], [-2.3, 0.5], [-0.9, 0.6], [0.5, 0.9], [1.9, 1.6], [-1.4, 3.1], [0.2, 3.9], [1.1, 4.1], [-0.4, 1.4], [2.5, 3.9],
  [-2.4, 1.8], [-2.1, 1.0], [-1.9, 2.4], [-1.7, 0.9], [-1.5, 2.0], [-1.3, 1.4], [-1.2, 2.6], [-1.0, 1.7], [-0.9, 2.2], [-0.7, 1.2], [-0.6, 3.0], [-0.4, 2.0], [-0.3, 1.2], [-0.2, 2.5], [-0.1, 1.7], [0.0, 2.4], [0.1, 1.3], [0.2, 2.8], [0.3, 2.1], [0.4, 1.6], [0.5, 3.3], [0.6, 1.9], [0.7, 2.7], [0.8, 2.2], [0.9, 3.4], [1.0, 1.8], [1.1, 2.9], [1.2, 2.3], [1.4, 3.0], [1.5, 2.2], [1.6, 3.4], [1.7, 2.6], [1.9, 3.6], [2.0, 2.8], [2.1, 3.9], [2.3, 2.9], [2.5, 3.1], [2.7, 3.6], [-2.6, 1.5], [-1.8, 0.4]];
const L_MSI = [[-2.9, 0.45], [-2.6, 0.3], [-2.4, 0.55], [-2.1, 0.35], [-1.9, 0.25], [-1.7, 0.5], [-1.5, 0.3], [-1.3, 0.4], [-1.1, 0.22], [-0.9, 0.48], [-0.7, 0.33], [-0.5, 0.28], [-0.3, 0.52], [-0.1, 0.38], [0.1, 0.25], [0.3, 0.45], [0.5, 0.32], [0.7, 0.55], [0.9, 0.3], [1.1, 0.4], [1.3, 0.26], [1.5, 0.5], [1.7, 0.35], [1.9, 0.42], [2.1, 0.3], [2.3, 0.55], [2.6, 0.38], [2.9, 0.3], [-2.0, 0.7], [0.0, 0.65], [1.0, 0.62], [-1.0, 0.6],
  [-2.8, 0.35], [-2.5, 0.42], [-2.3, 0.28], [-2.2, 0.48], [-2.0, 0.38], [-1.8, 0.3], [-1.6, 0.44], [-1.4, 0.25], [-1.2, 0.5], [-1.0, 0.35], [-0.8, 0.42], [-0.6, 0.26], [-0.4, 0.4], [-0.2, 0.3], [0.0, 0.46], [0.2, 0.35], [0.4, 0.28], [0.6, 0.42], [0.8, 0.38], [1.0, 0.25], [1.2, 0.45], [1.4, 0.35], [1.6, 0.28], [1.8, 0.5], [2.0, 0.4], [2.2, 0.25], [2.4, 0.45], [2.7, 0.35], [2.0, 0.7], [1.2, 0.7]];
const L_DYS = [[-2.3, -1.1], [-2.1, -1.6], [-1.9, -0.9], [-1.7, -2.0], [-1.5, -1.3], [-1.4, -2.4], [-1.2, -1.7], [-1.0, -1.0], [-0.9, -2.2], [-0.7, -1.5], [-0.6, -2.7], [-0.4, -1.9], [-0.3, -1.2], [-0.1, -2.4], [0.0, -1.6], [0.2, -2.9], [0.3, -2.0], [0.5, -1.4], [0.6, -2.5], [0.8, -1.8], [0.9, -3.1], [1.1, -2.2], [1.2, -1.5], [1.4, -2.7], [1.5, -2.0], [1.7, -3.0], [1.8, -2.3], [2.0, -1.7], [2.2, -2.6], [2.4, -3.3], [-1.8, -2.8], [-0.8, -0.8], [0.4, -1.1], [1.6, -1.3], [2.6, -2.1], [-2.5, -2.0], [0.1, -3.4], [1.0, -2.6], [-1.1, -3.0], [2.8, -3.2],
  [-2.4, -1.5], [-2.2, -2.3], [-2.0, -1.3], [-1.8, -1.8], [-1.6, -2.5], [-1.5, -1.6], [-1.3, -2.1], [-1.1, -1.4], [-1.0, -2.5], [-0.8, -1.8], [-0.7, -2.3], [-0.5, -1.3], [-0.4, -2.6], [-0.2, -1.7], [-0.1, -2.1], [0.0, -2.8], [0.1, -1.3], [0.2, -2.3], [0.3, -1.6], [0.4, -2.6], [0.5, -2.0], [0.6, -1.7], [0.7, -2.9], [0.8, -2.2], [0.9, -1.5], [1.0, -2.0], [1.1, -2.8], [1.2, -2.4], [1.3, -1.9], [1.4, -2.2], [1.5, -3.0], [1.6, -2.5], [1.8, -1.9], [1.9, -2.8], [2.0, -2.3], [2.2, -2.0], [2.3, -2.9], [2.5, -2.5], [-1.2, -0.9], [0.6, -0.9]];
const L_TIDE = [[-2.95, 1.6], [-2.95, 0.6], [2.9, -0.7]];
const L_FIT_FAP = [2.77, 4.14];
const L_FIT_EXCL = [1.37, 3.42];
const L_FIT_TIDE = [-0.02, 3.54];
const L_FIT_MSI = [0.34, 0.34];
const L_FIT_DYS = [-1.23, -2.6];
const L_TOP = [[-3, 0.02], [-2.5, 0.06], [-2, 0.15], [-1.5, 0.3], [-1, 0.5], [-0.5, 0.72], [0, 0.9], [0.3, 0.95], [0.7, 0.85], [1.2, 0.62], [1.7, 0.42], [2.2, 0.3], [2.6, 0.22], [3, 0.18]];
const L_SIDE_MSI = [[0, 0.1], [0.25, 0.3], [1, 0.45], [0.25, 0.6], [0, 0.8]];
const L_SIDE_FAP = [[0, 2.6], [0.15, 3.2], [0.3, 3.8], [0.32, 4.2], [0.2, 4.8], [0, 5.3]];
const L_SIDE_DYS = [[0, -0.9], [0.2, -1.5], [0.42, -2.2], [0.45, -2.8], [0.3, -3.3], [0, -3.6]];

// ---------- helpers ----------
type Note = { x: number; y: number; text: string; color?: string; size?: number; bold?: boolean; align?: CanvasTextAlign; base?: CanvasTextBaseline };

function notes(items: Note[]) {
  return {
    id: 'notes',
    afterDatasetsDraw(chart: any) {
      const { ctx } = chart;
      const sx = chart.scales.x;
      const sy = chart.scales.y;
      ctx.save();
      for (const n of items) {
        ctx.font = `${n.bold ? 'bold ' : ''}${n.size ?? 6}px ${FONT}`;
        ctx.fillStyle = n.color ?? '#111';
        ctx.textAlign = n.align ?? 'center';
        ctx.textBaseline = n.base ?? 'middle';
        ctx.fillText(n.text, sx.getPixelForValue(n.x), sy.getPixelForValue(n.y));
      }
      ctx.restore();
    },
  };
}

function frame(w: number) {
  return {
    id: 'frame',
    afterDraw(chart: any) {
      const { ctx, chartArea: a } = chart;
      ctx.save();
      ctx.strokeStyle = '#111';
      ctx.lineWidth = w;
      ctx.strokeRect(a.left, a.top, a.right - a.left, a.bottom - a.top);
      ctx.restore();
    },
  };
}

function axis(o: any): any {
  const s: any = {
    type: o.type ?? 'linear',
    display: o.hidden ? false : true,
    reverse: !!o.reverse,
    stacked: !!o.stacked,
    afterFit: (sc: any) => {
      if (o.dir === 'x') sc.height = o.size;
      else sc.width = o.size;
    },
    ticks: { font: { family: FONT, size: o.font ?? 5 }, color: o.color ?? '#222', padding: 1, autoSkip: false, maxRotation: 0, minRotation: 0 },
    grid: { display: true, offset: false, drawOnChartArea: !!o.grid, drawTicks: true, tickLength: 2, tickColor: '#333', tickWidth: 0.8, color: o.gridColor ?? '#e4e4e4', lineWidth: 0.7 },
    border: { display: !!o.line, color: '#111', width: 1 },
    title: { display: !!o.title, text: o.title ?? '', font: { family: FONT, size: o.tfont ?? 7.5 }, color: '#222', padding: 0 },
  };
  if (o.min !== undefined) s.min = o.min;
  if (o.max !== undefined) s.max = o.max;
  if (o.ticks) {
    const t: number[] = o.ticks;
    s.afterBuildTicks = (sc: any) => {
      sc.ticks = t.map((v) => ({ value: v }));
    };
  }
  if (o.fmt) s.ticks.callback = (v: any) => o.fmt(Number(v));
  return s;
}

function base(datasets: any[], x: any, y: any, pad: any, plugins: any[] = [], type = 'scatter', labels?: string[]): any {
  return {
    type,
    data: labels ? { labels, datasets } : { datasets },
    options: {
      animation: false,
      responsive: false,
      events: [],
      layout: { padding: { top: pad.t ?? 0, right: pad.r ?? 0, bottom: pad.b ?? 0, left: pad.l ?? 0 } },
      plugins: { legend: { display: false }, tooltip: { enabled: false }, title: { display: false } },
      scales: { x, y },
    },
    plugins,
  };
}

const shape = (pts: any[], color: string, order = 5, tension = 0.3): any => ({
  type: 'line', data: pts, fill: 'shape', backgroundColor: color, borderColor: color, borderWidth: 0.5, pointRadius: 0, tension, order,
});
const path = (pts: any[], color: string, width: number, dash: number[] = [], order = 0, extra: any = {}): any => ({
  type: 'line', data: pts, fill: false, borderColor: color, borderWidth: width, borderDash: dash, pointRadius: 0, tension: 0, order, ...extra,
});
const dots = (pts: any[], color: string, r: number, order = 2): any => ({
  type: 'scatter', data: pts, backgroundColor: color, borderWidth: 0, pointRadius: r, order,
});
const pairs = (arr: number[][]) => arr.map(([x, y]) => ({ x, y }));
const catFmt = (cats: string[]) => (v: number) => (Number.isInteger(v) ? cats[v - 1] ?? '' : '');

function widthAt(prof: number[][], y: number) {
  if (y <= prof[0][0]) return prof[0][1];
  for (let i = 1; i < prof.length; i++) {
    if (y <= prof[i][0]) {
      const [y0, w0] = prof[i - 1];
      const [y1, w1] = prof[i];
      return w0 + ((w1 - w0) * (y - y0)) / (y1 - y0);
    }
  }
  return prof[prof.length - 1][1];
}

function outline(cx: number, prof: number[][]) {
  const right = prof.map(([y, w]) => ({ x: cx + w, y }));
  const left = prof.slice(0, -1).reverse().map(([y, w]) => ({ x: cx - w, y }));
  return [...right, ...left];
}

interface VG { cx: number; prof: number[][]; color: string; vals: number[]; seed: number }

function violinSets(groups: VG[], r: number, js: number) {
  const out: any[] = [];
  groups.forEach((g) => {
    out.push(shape(outline(g.cx, g.prof), g.color, 5));
    const pts = g.vals.map((y, i) => ({ x: g.cx + JIT[(i * 7 + g.seed) % JIT.length] * Math.max(0.04, widthAt(g.prof, y) * js), y }));
    out.push(dots(pts, '#111', r, 2));
  });
  return out;
}

function violinCfg(o: any) {
  const br: [number, number, number, string][] = o.br ?? [];
  const ds = [
    ...(o.more ?? []),
    ...br.map(([a, b, y]) => path([{ x: a, y: y - o.bd }, { x: a, y }, { x: b, y }, { x: b, y: y - o.bd }], '#111', 0.9)),
    ...violinSets(o.groups, o.r, o.js ?? 0.85),
  ];
  const items: Note[] = br.map(([a, b, y, t]) => ({ x: (a + b) / 2, y: y + o.boff, text: t, size: 4.5, base: 'bottom' as CanvasTextBaseline }));
  return base(ds, o.x, o.y, o.pad, [notes([...items, ...(o.extra ?? [])]), frame(o.frameW ?? 1.5)]);
}

const ks = (x: number, y1: number, y2: number, p: string): Note[] => [
  { x, y: y1, text: 'KS.test', color: RED, size: 8.5, bold: true, align: 'left' },
  { x, y: y2, text: p, color: RED, size: 8.5, bold: true, align: 'left' },
];

function stackCfg(o: any) {
  const ds = o.segs.map((s: any) => ({ type: 'bar', data: s.vals, backgroundColor: s.color, borderWidth: 0, categoryPercentage: 1, barPercentage: o.bar }));
  const items: Note[] = [];
  o.cats.forEach((_: string, i: number) => {
    let cum = 0;
    o.segs.forEach((s: any) => {
      items.push({ x: i, y: cum + s.vals[i] / 2, text: s.name, size: o.labelFont });
      cum += s.vals[i];
    });
  });
  (o.head ?? []).forEach((h: string, k: number) => items.push({ x: 0.5, y: 1.142 - k * 0.071, text: h, size: 7.5, color: '#333' }));
  return base(
    ds,
    axis({ dir: 'x', type: 'category', size: o.xh, font: o.xFont, stacked: true }),
    axis({ dir: 'y', min: 0, max: 1, ticks: o.yTicks, fmt: o.yFmt, size: o.yw, font: 4.5, title: o.yTitle, tfont: 7.5, stacked: true }),
    o.pad, [notes(items)], 'bar', o.cats,
  );
}

// ---------- panel configs ----------
function cfgA() {
  const ds = [
    path(KM_HIGH_T.map((t, i) => ({ x: t, y: KM_HIGH_S[i] })), BLUE_KM, 2.4, [], 1, { stepped: true }),
    path(KM_LOW_T.map((t, i) => ({ x: t, y: KM_LOW_S[i] })), ORANGE_KM, 2.4, [], 1, { stepped: true }),
    path([{ x: 0, y: 0.5 }, { x: KM_MEDIANS[1], y: 0.5 }], '#111', 1.3, [4, 3]),
    ...KM_MEDIANS.map((m) => path([{ x: m, y: 0 }, { x: m, y: 0.5 }], '#111', 1.3, [4, 3])),
  ];
  const n = notes([
    { x: 14.8, y: 0.955, text: 'CDISig', size: 7.5, align: 'left' },
    { x: 17.15, y: 0.837, text: '■', color: BLUE_KM, size: 6 },
    { x: 17.9, y: 0.837, text: 'high CDIScore', color: BLUE_KM, size: 6, align: 'left' },
    { x: 17.15, y: 0.76, text: '■', color: ORANGE_KM, size: 6 },
    { x: 17.9, y: 0.76, text: 'low CDIScore', color: ORANGE_KM, size: 6, align: 'left' },
    { x: 0.6, y: 0.205, text: 'P<0.001', size: 7, align: 'left' },
  ]);
  return base(
    ds,
    axis({ dir: 'x', min: -0.96, max: 25.4, ticks: RISK_TIMES, fmt: String, size: 15, font: 4.5, title: 'Time(years)', tfont: 7.5, line: true }),
    axis({ dir: 'y', min: -0.057, max: 1.057, ticks: [0, 0.25, 0.5, 0.75, 1], fmt: (v: number) => v.toFixed(2), size: 24, font: 4.5, title: 'Survival probability', tfont: 7.5, line: true }),
    { t: 1, l: 6 }, [n],
  );
}

function cfgRisk() {
  const items: Note[] = [{ x: -0.6, y: -0.2, text: 'Number at risk', size: 7.5, align: 'left' }];
  RISK_TIMES.forEach((t, i) => {
    items.push({ x: t, y: 1, text: String(RISK_HIGH[i]), size: 4.8 });
    items.push({ x: t, y: 2, text: String(RISK_LOW[i]), size: 4.8 });
  });
  return base(
    [],
    axis({ dir: 'x', min: -0.96, max: 25.4, ticks: RISK_TIMES, fmt: String, size: 15, font: 4.5, title: 'Time(years)', tfont: 7.5, line: true }),
    axis({ dir: 'y', min: 0.5, max: 2.5, reverse: true, ticks: [1, 2], fmt: (v: number) => RISK_GROUPS[v - 1] ?? '', size: 24, font: 6, title: 'CDISig', tfont: 7.5, line: true, color: (c: any) => (c.tick && c.tick.value === 1 ? BLUE_KM : ORANGE_KM) }),
    { t: 10, l: 6, b: 4 }, [notes(items)],
  );
}

function cfgB() {
  return violinCfg({
    groups: [
      { cx: 1, prof: B_PD_V, color: SALMON, vals: B_PD, seed: 0 },
      { cx: 2, prof: B_SD_V, color: SKY, vals: B_SD, seed: 3 },
      { cx: 3, prof: B_CR_V, color: TEAL, vals: B_CR, seed: 6 },
      { cx: 4, prof: B_PR_V, color: SLATE, vals: B_PR, seed: 9 },
    ],
    br: B_BR, bd: 0.25, boff: 0.12, r: 2.1, js: 0.8,
    x: axis({ dir: 'x', min: 0.41, max: 4.31, ticks: [1, 2, 3, 4], fmt: catFmt(B_CATS), size: 18, font: 8.5 }),
    y: axis({ dir: 'y', min: -4.5, max: 9.6, ticks: [-4, -2, 0, 2, 4, 6, 8], fmt: String, size: 18.5, font: 5.5, title: 'CDIScore', tfont: 8 }),
    pad: { t: 5, r: 5, l: 7.5 },
    extra: ks(0.44, 9.1, 8.15, 'P=0.02'),
  });
}

function cfgC1() {
  return stackCfg({
    cats: C_CATS,
    segs: [
      { vals: RESP_SD, color: BAR_SKY, name: 'SD' },
      { vals: RESP_PR, color: BAR_SLATE, name: 'PR' },
      { vals: RESP_PD, color: BAR_SALMON, name: 'PD' },
      { vals: RESP_CR, color: BAR_TEAL, name: 'CR' },
    ],
    head: ['Response', '(P<0.001)'], yTitle: 'Percent Weight',
    yTicks: [0, 0.25, 0.5, 0.75, 1], yFmt: (v: number) => v.toFixed(2),
    yw: 19.5, xh: 21, xFont: 8, bar: 0.86, labelFont: 6, pad: { t: 24, r: 5, l: 7.5 },
  });
}

function cfgC2() {
  return stackCfg({
    cats: C_CATS,
    segs: [
      { vals: IMM_INFL, color: BAR_TEAL, name: 'inflamed' },
      { vals: IMM_EXCL, color: BAR_SKY, name: 'excluded' },
      { vals: IMM_DESERT, color: BAR_SALMON, name: 'desert' },
    ],
    head: ['Immune phenotype', '(P=0.025)'],
    yTicks: [0, 0.25, 0.5, 0.75, 1], yFmt: (v: number) => v.toFixed(2),
    yw: 17, xh: 21, xFont: 8, bar: 0.87, labelFont: 6, pad: { t: 24, r: 6 },
  });
}

function cfgD() {
  return violinCfg({
    groups: [
      { cx: 1, prof: D_DESERT_V, color: SALMON, vals: D_DESERT, seed: 1 },
      { cx: 2, prof: D_EXCL_V, color: SKY, vals: D_EXCL, seed: 4 },
      { cx: 3, prof: D_INFL_V, color: TEAL, vals: D_INFL, seed: 8 },
    ],
    br: D_BR, bd: 0.2, boff: 0.1, r: 2.0,
    x: axis({ dir: 'x', min: 0.34, max: 3.55, ticks: [1, 2, 3], fmt: catFmt(D_CATS), size: 18, font: 8.5 }),
    y: axis({ dir: 'y', min: -4.4, max: 7.0, ticks: [-4, -2, 0, 2, 4, 6], fmt: String, size: 13, font: 5, title: 'Log2(Riskscore)', tfont: 7.5 }),
    pad: { t: 4, r: 7, l: 4 },
    extra: ks(0.52, 6.55, 5.8, 'P<0.001'),
  });
}

function cfgE1() {
  return violinCfg({
    groups: [
      { cx: 1, prof: E_IC0_V, color: SALMON, vals: E_IC0, seed: 2 },
      { cx: 2, prof: E_IC1_V, color: SKY, vals: E_IC1, seed: 5 },
      { cx: 3, prof: E_IC2_V, color: TEAL, vals: E_IC2, seed: 11 },
    ],
    br: E_IC_BR, bd: 0.5, boff: 0.3, r: 2.0,
    x: axis({ dir: 'x', min: 0.47, max: 3.55, ticks: [1, 2, 3], fmt: catFmt(E_IC_CATS), size: 13, font: 7.5 }),
    y: axis({ dir: 'y', min: -3.45, max: 23.6, ticks: [0, 5, 10, 15, 20], fmt: String, size: 19.7, font: 5.5, title: 'Log2(CDIScore)', tfont: 7.5 }),
    pad: { t: 8, r: 3.3, l: 2 },
    extra: ks(0.5, 22.4, 20.5, 'P=0.06'),
  });
}

function cfgE2() {
  return violinCfg({
    groups: [
      { cx: 1, prof: E_TC0_V, color: SALMON, vals: E_TC0, seed: 0 },
      { cx: 2, prof: E_TC1_V, color: SKY, vals: E_TC1, seed: 7 },
      { cx: 3, prof: E_TC2_V, color: TEAL, vals: E_TC2, seed: 13 },
    ],
    br: E_TC_BR, bd: 0.5, boff: 0.3, r: 2.0,
    x: axis({ dir: 'x', min: 0.45, max: 3.36, ticks: [1, 2, 3], fmt: catFmt(E_TC_CATS), size: 13, font: 7.5 }),
    y: axis({ dir: 'y', min: -3.45, max: 23.6, ticks: [0, 5, 10, 15, 20], fmt: String, size: 19.2, font: 5.5, title: 'Log2(CDIScore)', tfont: 7.5 }),
    pad: { t: 8, r: 4, l: 0.5 },
    extra: ks(0.47, 22.4, 20.5, 'P=0.02'),
  });
}

function cfgF() {
  const extra: Note[] = [
    { x: 1.05, y: 1.3, text: F_PVALS[0], size: 4.5 },
    { x: 2.05, y: 1.3, text: F_PVALS[1], size: 4.5 },
    { x: 3.18, y: 1.3, text: F_PVALS[2], size: 4.5, align: 'right' },
    { x: 3.19, y: 1.3, text: 'CDISig', size: 6.8, align: 'left' },
    { x: 3.225, y: 1.208, text: '●', color: '#E8473A', size: 6 },
    { x: 3.265, y: 1.208, text: 'high risk', size: 5.5, align: 'left', color: '#333' },
    { x: 3.225, y: 1.115, text: '●', color: '#3FB7DB', size: 6 },
    { x: 3.265, y: 1.115, text: 'low risk', size: 5.5, align: 'left', color: '#333' },
  ];
  return violinCfg({
    groups: [
      { cx: 0.75, prof: F_CD274_H_V, color: SALMON, vals: F_CD274_H, seed: 0 },
      { cx: 1.25, prof: F_CD274_L_V, color: SKY, vals: F_CD274_L, seed: 3 },
      { cx: 1.75, prof: F_CTLA4_H_V, color: SALMON, vals: F_CTLA4_H, seed: 6 },
      { cx: 2.25, prof: F_CTLA4_L_V, color: SKY, vals: F_CTLA4_L, seed: 9 },
      { cx: 2.75, prof: F_PD1_H_V, color: SALMON, vals: F_PD1_H, seed: 12 },
      { cx: 3.25, prof: F_PD1_L_V, color: SKY, vals: F_PD1_L, seed: 15 },
    ],
    bd: 0, boff: 0, r: 1.9, js: 0.9,
    x: axis({ dir: 'x', min: 0.467, max: 3.58, ticks: [1, 2, 3], fmt: catFmt(F_GENES), size: 14, font: 7.5, grid: true }),
    y: axis({ dir: 'y', min: -0.236, max: 1.34, ticks: [0, 0.5, 1], fmt: (v: number) => v.toFixed(1), size: 22, font: 5, title: 'Gene Expression', tfont: 7, grid: true }),
    pad: { t: 8.7, r: 3.3, l: 6 },
    extra, frameW: 1.3,
  });
}

function cfgG() {
  const fit = (f: number[]) => path([{ x: G_XR[0], y: f[0] }, { x: G_XR[1], y: f[1] }], '#000', 2.2, [], 0);
  const ds = [
    fit(G_FIT_CTLA4), fit(G_FIT_PD1), fit(G_FIT_CD274),
    dots(pairs(G_PD1), '#159A7A', 1.8, 2),
    dots(pairs(G_CTLA4), '#4DB8DD', 1.8, 3),
    dots(pairs(G_CD274), '#E8473A', 1.8, 4),
  ];
  const n = notes([
    { x: -2.76, y: -0.122, text: '● CD274: P=3.7e-3 r=-0.16', color: '#E8473A', size: 7.3, align: 'left' },
    { x: -2.76, y: -0.206, text: '● CTLA4: P=3.1e-16 r=-0.42', color: '#3FB0D8', size: 7.3, align: 'left' },
    { x: -2.76, y: -0.3, text: '● PD1:     P=4.8e-16 r=-0.42', color: '#159A7A', size: 7.3, align: 'left' },
  ]);
  return base(
    ds,
    axis({ dir: 'x', min: G_XR[0], max: G_XR[1], ticks: [-3, -2, -1, 0, 1, 2, 3], fmt: (v: number) => (v === -3 ? '' : String(v)), size: 22, font: 4.5, title: 'CDIScore', tfont: 7.5, line: true }),
    axis({ dir: 'y', min: -0.37, max: 1.02, ticks: [-0.2, 0, 0.2, 0.4, 0.6, 0.8, 1], fmt: (v: number) => v.toFixed(1), size: 18.7, font: 4.5, title: 'Gene expression', tfont: 7.5, line: true }),
    { t: 18, r: 7, b: 3, l: 2 }, [n],
  );
}

function rocCfg(curves: { vals: number[]; color: string }[], legend: { text: string; color: string }[], padL: number, yw: number, padR: number) {
  const ds = [
    ...curves.map((c) => path(ROC_FPR.map((x, i) => ({ x, y: c.vals[i] })), c.color, 2.6, [], 1, { cubicInterpolationMode: 'monotone', tension: 0.4 })),
    path([{ x: 0, y: 0 }, { x: 1, y: 1 }], '#111', 1.3, [2, 2.5], 2),
  ];
  const items: Note[] = [{ x: 0.985, y: 0.29, text: 'AUC(95%CI)', size: 7.2, align: 'right', color: '#333' }];
  const ys = [0.215, 0.13, 0.05];
  legend.forEach((l, i) => items.push({ x: 0.985, y: ys[i], text: l.text, color: l.color, size: 7.2, align: 'right' }));
  const ticks = [0, 0.1, 0.2, 0.3, 0.4, 0.5, 0.6, 0.7, 0.8, 0.9, 1];
  const fmt = (v: number) => (Math.round(v * 10) % 2 === 0 ? v.toFixed(1) : '');
  const gc = (c: any) => (c.tick && Math.round(c.tick.value * 10) % 2 === 0 ? '#d8d8d8' : '#eeeeee');
  return base(
    ds,
    axis({ dir: 'x', min: 0, max: 1, ticks, fmt, size: 19.8, font: 4.5, title: '1-Specificities', tfont: 7.5, grid: true, gridColor: gc }),
    axis({ dir: 'y', min: 0, max: 1, ticks, fmt, size: yw, font: 4.5, title: 'Sensitivities', tfont: 7, grid: true, gridColor: gc }),
    { t: 17, r: padR, b: 3.5, l: padL }, [notes(items), frame(1.3)],
  );
}

const cfgH1 = () => rocCfg(
  [{ vals: H1_CD274, color: '#4FB9E0' }, { vals: H1_COMB, color: '#1F8A4C' }, { vals: H1_CDISIG, color: '#E8473A' }],
  [{ text: '▬ CDISig: 0.58(0.65-0.52)', color: '#E8473A' }, { text: '▬ CD274:0.58(0.65-0.50)', color: '#4FB9E0' }, { text: '▬CD274+CDISig:0.60(0.68-0.52)', color: '#1F8A4C' }],
  3, 16, 3,
);
const cfgH2 = () => rocCfg(
  [{ vals: H2_CTLA4, color: '#F4A08C' }, { vals: H2_COMB, color: '#F2C315' }, { vals: H2_CDISIG, color: '#E8473A' }],
  [{ text: '▬CDISig:0.58(0.65-0.52)', color: '#E8473A' }, { text: '▬CTLA4:0.53(0.61-0.45)', color: '#F4A08C' }, { text: '▬ CTLA4+CDISig:0.58(0.65-0.50)', color: '#F2C315' }],
  3, 17.7, 3.7,
);
const cfgH3 = () => rocCfg(
  [{ vals: H3_PDCD1, color: '#1F8A4C' }, { vals: H3_CDISIG, color: '#E8473A' }, { vals: H3_COMB, color: '#F2B705' }],
  [{ text: '▬CDISig: 0.58(0.65-0.52)', color: '#E8473A' }, { text: '▬ PDCD1: 0.56(0.64-0.47)', color: '#1F8A4C' }, { text: '▬PD1+CDISig: 0.60(0.67-0.52)', color: '#F2B705' }],
  3.5, 17.5, 5.7,
);

function cfgI() {
  return violinCfg({
    groups: [
      { cx: 1, prof: I_NR_V, color: SALMON_L, vals: I_NR, seed: 0 },
      { cx: 2, prof: I_R_V, color: SKY_L, vals: I_R, seed: 5 },
    ],
    bd: 0, boff: 0, r: 2.0,
    x: axis({ dir: 'x', min: 0.466, max: 2.52, ticks: [1, 1.5, 2], fmt: catFmt(I_CATS), size: 19.7, font: 8, grid: true }),
    y: axis({ dir: 'y', min: -6.7, max: 8.26, ticks: [-6, -4, -2, 0, 2, 4, 6, 8], fmt: String, size: 18, font: 5, title: 'Log2(CDIScore)', tfont: 7, grid: true, gridColor: '#ececec' }),
    pad: { t: 5.7, r: 4.7, l: 2 },
    extra: [{ x: 1.41, y: 7.6, text: 'P<0.001', size: 4.5 }],
  });
}

function cfgJ() {
  return violinCfg({
    groups: [
      { cx: 1, prof: J_HIGH_V, color: SKY_L, vals: J_HIGH, seed: 2 },
      { cx: 2, prof: J_LOW_V, color: SALMON_L, vals: J_LOW, seed: 9 },
    ],
    more: [
      path([{ x: 1, y: J_BOX_HIGH[0] }, { x: 1, y: J_BOX_HIGH[1] }], '#2A9FD0', 1.2, [], 3),
      path([{ x: 2, y: J_BOX_LOW[0] }, { x: 2, y: J_BOX_LOW[1] }], '#E8473A', 5, [], 3),
    ],
    bd: 0, boff: 0, r: 2.0,
    x: axis({ dir: 'x', min: 0.467, max: 2.4, ticks: [1, 1.5, 2], fmt: catFmt(J_CATS), size: 21.3, font: 7.5, grid: true }),
    y: axis({ dir: 'y', min: -4.95, max: 6.8, ticks: [-4, -2, 0, 2, 4, 6], fmt: String, size: 16.7, font: 5, grid: true, gridColor: '#ececec' }),
    pad: { t: 5, r: 5 },
    extra: [{ x: 1.51, y: 6.24, text: 'P<0.001', size: 4.5 }],
  });
}

function cfgK() {
  return stackCfg({
    cats: J_CATS,
    segs: [
      { vals: K_NR, color: BAR_SALMON, name: 'NR' },
      { vals: K_R, color: BAR_SKY, name: 'R' },
    ],
    yTitle: 'Percent Weight',
    yTicks: [0, 0.2, 0.4, 0.6, 0.8, 1], yFmt: (v: number) => v.toFixed(1),
    yw: 26.2, xh: 19, xFont: 7.5, bar: 0.88, labelFont: 7.5, pad: { t: 6.7, r: 6, l: 7.5 },
  });
}

function cfgL() {
  const fit = (f: number[]) => path([{ x: -3, y: f[0] }, { x: 3, y: f[1] }], '#000', 2.6, [], 0);
  const ds = [
    fit(L_FIT_FAP), fit(L_FIT_EXCL), fit(L_FIT_TIDE), fit(L_FIT_MSI), fit(L_FIT_DYS),
    dots(pairs(L_TIDE), '#E8473A', 1.3, 2),
    dots(pairs(L_EXCL), '#1E9C7C', 1.3, 3),
    dots(pairs(L_FAP), '#5BC3E3', 1.3, 4),
    dots(pairs(L_MSI), '#F4A08A', 1.3, 5),
    dots(pairs(L_DYS), '#3F4D8F', 1.3, 6),
  ];
  const n = notes([
    { x: -2.93, y: 6.79, text: '● TIDE: P=5.4e-9 r=0.28', color: '#E8473A', size: 5.2, align: 'left' },
    { x: -0.26, y: 6.79, text: '● Dysfunction: P=1.6e-15 r=-0.35', color: '#3F4D8F', size: 5.2, align: 'left' },
    { x: -2.93, y: 6.24, text: '● FAP: P=1.3e-4 r=0.17', color: '#3FB7DB', size: 5.2, align: 'left' },
    { x: -0.26, y: 6.24, text: '● MSI Expr Sig: P=0.82 r=-0.01', color: '#F29A84', size: 5.2, align: 'left' },
    { x: -2.93, y: 5.69, text: '● Exclusion: P=1.1e-32 r=0.6', color: '#1E9C7C', size: 5.2, align: 'left' },
  ]);
  return base(
    ds,
    axis({ dir: 'x', min: -3, max: 3, ticks: [-3, -2, -1, 0, 1, 2, 3], fmt: () => '', size: 18.2, font: 4, title: 'CDIScore', tfont: 7.5 }),
    axis({ dir: 'y', min: -3.62, max: 6.95, ticks: [-2, 0, 2, 4, 6], fmt: String, size: 14, font: 5 }),
    { t: 6.7, r: 1.7, b: 1.5 }, [n, frame(1.5)],
  );
}

function cfgLTop() {
  const ds = [{ type: 'line', data: pairs(L_TOP), fill: 'origin', backgroundColor: '#8B7B89', borderColor: '#8B7B89', borderWidth: 0.5, pointRadius: 0, tension: 0.4 }];
  return base(ds, axis({ dir: 'x', min: -3, max: 3, hidden: true, size: 0 }), axis({ dir: 'y', min: 0, max: 1.05, hidden: true, size: 0 }), {});
}

function cfgLRight() {
  const ds = [
    shape(pairs(L_SIDE_MSI), 'rgba(150,150,150,0.9)', 5, 0.2),
    shape(pairs(L_SIDE_FAP), 'rgba(120,190,225,0.6)', 5, 0.4),
    shape(pairs(L_SIDE_DYS), 'rgba(240,160,150,0.6)', 5, 0.4),
  ];
  return base(ds, axis({ dir: 'x', min: 0, max: 1, hidden: true, size: 0 }), axis({ dir: 'y', min: -3.62, max: 6.95, hidden: true, size: 0 }), { t: 6.7, b: 19.7 });
}

// ---------- layout ----------
const PANELS = [
  { make: cfgLTop, left: 504, top: 519, w: 165, h: 23 },
  { make: cfgLRight, left: 668, top: 535, w: 17, h: 174 },
  { make: cfgA, left: 0, top: 14, w: 170, h: 114 },
  { make: cfgRisk, left: 0, top: 126, w: 170, h: 44 },
  { make: cfgB, left: 165, top: 0, w: 170, h: 172 },
  { make: cfgC1, left: 340, top: 0, w: 95, h: 172 },
  { make: cfgC2, left: 432, top: 0, w: 85, h: 172 },
  { make: cfgD, left: 510, top: 0, w: 175, h: 172 },
  { make: cfgE1, left: 0, top: 172, w: 170, h: 170 },
  { make: cfgE2, left: 172, top: 172, w: 162, h: 170 },
  { make: cfgF, left: 340, top: 172, w: 345, h: 170 },
  { make: cfgG, left: 0, top: 340, w: 140, h: 190 },
  { make: cfgH1, left: 135, top: 340, w: 185, h: 190 },
  { make: cfgH2, left: 315, top: 340, w: 187, h: 190 },
  { make: cfgH3, left: 495, top: 340, w: 190, h: 190 },
  { make: cfgI, left: 0, top: 535, w: 172, h: 174 },
  { make: cfgJ, left: 175, top: 535, w: 167, h: 174 },
  { make: cfgK, left: 348, top: 535, w: 145, h: 174 },
  { make: cfgL, left: 490, top: 535, w: 180, h: 174 },
];

const LETTERS: [string, number, number][] = [
  ['A', 3, 4], ['B', 172, 3], ['C', 350, 5], ['D', 513, 5],
  ['E', 4, 168], ['F', 334, 168], ['G', 2, 343], ['H', 140, 347],
  ['I', 2, 531], ['J', 173, 531], ['K', 353, 533], ['L', 488, 533],
];

function ChartBox({ make, left, top, w, h }: { make: () => any; left: number; top: number; w: number; h: number }) {
  const ref = useRef<HTMLCanvasElement>(null);
  useEffect(() => {
    if (!ref.current) return;
    const chart = new Chart(ref.current, make());
    return () => chart.destroy();
  }, [make]);
  return <canvas ref={ref} width={w} height={h} style={{ position: 'absolute', left, top, width: w, height: h }} />;
}

export default function App() {
  return (
    <div style={{ position: 'absolute', left: 0, top: 0, width: 685, height: 709, background: '#fff', overflow: 'hidden', fontFamily: FONT }}>
      {PANELS.map((p, i) => (
        <ChartBox key={i} {...p} />
      ))}
      <div style={{ position: 'absolute', left: 24, top: 5, font: `italic bold 9px ${FONT}`, lineHeight: 1, whiteSpace: 'nowrap', color: '#111' }}>
        KM survival curve for IMvigor210
      </div>
      {LETTERS.map(([t, l, tp]) => (
        <div key={t} style={{ position: 'absolute', left: l, top: tp - 2.5, font: `bold 19px ${FONT}`, lineHeight: 1, color: '#000' }}>
          {t}
        </div>
      ))}
    </div>
  );
}
